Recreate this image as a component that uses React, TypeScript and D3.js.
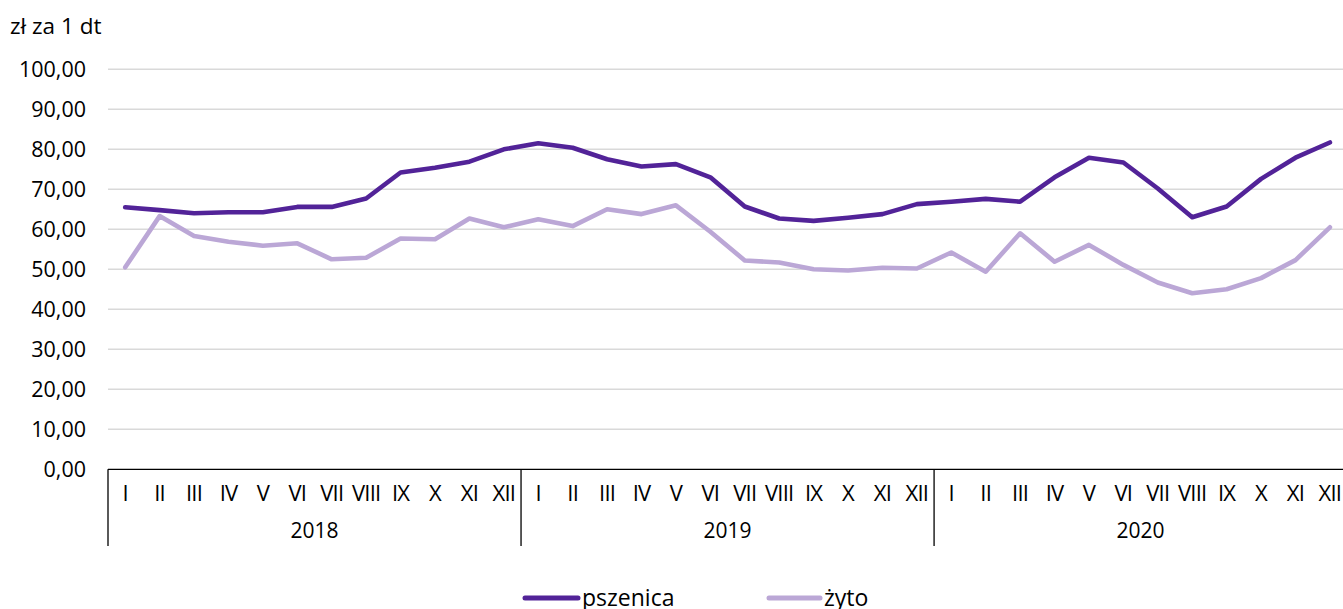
import React from "react";
import * as d3 from "d3";

const years = ["2018", "2019", "2020"];
const months = ["I", "II", "III", "IV", "V", "VI", "VII", "VIII", "IX", "X", "XI", "XII"];
const yTicks = [0, 10, 20, 30, 40, 50, 60, 70, 80, 90, 100];

const pszenica = [
  65.5, 64.8, 64.0, 64.25, 64.25, 65.6, 65.6, 67.7, 74.2, 75.4, 76.9, 80.0,
  81.5, 80.4, 77.5, 75.7, 76.3, 73.0, 65.7, 62.7, 62.1, 62.9, 63.8, 66.3,
  66.9, 67.6, 66.9, 73.0, 77.9, 76.7, 70.2, 63.0, 65.7, 72.6, 77.9, 81.7,
];
const zyto = [
  50.5, 63.3, 58.3, 56.9, 55.9, 56.5, 52.5, 52.9, 57.7, 57.5, 62.7, 60.5,
  62.5, 60.8, 65.0, 63.8, 66.0, 59.4, 52.2, 51.7, 50.0, 49.7, 50.4, 50.2,
  54.2, 49.4, 59.0, 51.9, 56.1, 51.1, 46.7, 44.0, 45.0, 47.8, 52.3, 60.5,
];

const W = 1343;
const H = 609;
const left = 108;
const right = 108 + 36 * 34.42;
const top = 69.3;
const bottom = 469.3;
const FONT = "'Open Sans', 'Noto Sans', sans-serif";
const C1 = "#522398";
const C2 = "#bba7d6";

export default function App() {
  const keys = years.flatMap((y) => months.map((m) => `${y}-${m}`));
  const x = d3.scaleBand<string>().domain(keys).range([left, right]);
  const y = d3.scaleLinear().domain([0, 100]).range([bottom, top]);
  const line = d3
    .line<number>()
    .x((_, i) => (x(keys[i]) as number) + x.bandwidth() / 2)
    .y((d) => y(d));
  const yearW = x.bandwidth() * 12;

  return (
    <svg width={W} height={H} style={{ position: "absolute", left: 0, top: 0, background: "#fff" }}>
      <text x={10} y={34} fontFamily={FONT} fontSize={22.5} fill="#000">zł za 1 dt</text>
      {yTicks.map((t) => (
        <g key={t}>
          {t > 0 && (
            <line x1={left} x2={W} y1={y(t)} y2={y(t)} stroke="#d9d9d9" strokeWidth={1.5} />
          )}
          <text x={86} y={y(t) + 7.5} textAnchor="end" fontFamily={FONT} fontSize={21.5} fill="#000">
            {t.toFixed(2).replace(".", ",")}
          </text>
        </g>
      ))}
      <line x1={left} x2={W} y1={bottom} y2={bottom} stroke="#000" strokeWidth={1.3} />
      {years.map((yr, yi) => {
        const x0 = left + yi * yearW;
        return (
          <g key={yr}>
            <line x1={x0} x2={x0} y1={bottom} y2={546} stroke="#000" strokeWidth={1.3} />
            <text x={x0 + yearW / 2} y={538} textAnchor="middle" fontFamily={FONT} fontSize={21}>
              {yr}
            </text>
            {months.map((m) => (
              <text
                key={m}
                x={(x(`${yr}-${m}`) as number) + x.bandwidth() / 2}
                y={501}
                textAnchor="middle"
                fontFamily={FONT}
                fontSize={22}
                letterSpacing={-0.8}
              >
                {m}
              </text>
            ))}
          </g>
        );
      })}
      <path d={line(zyto) || ""} fill="none" stroke={C2} strokeWidth={4.6} strokeLinejoin="round" strokeLinecap="round" />
      <path d={line(pszenica) || ""} fill="none" stroke={C1} strokeWidth={4.6} strokeLinejoin="round" strokeLinecap="round" />
      <g>
        <line x1={525} x2={578} y1={598} y2={598} stroke={C1} strokeWidth={5} strokeLinecap="round" />
        <text x={582} y={606} fontFamily={FONT} fontSize={23}>pszenica</text>
        <line x1={769} x2={820} y1={598} y2={598} stroke={C2} strokeWidth={5} strokeLinecap="round" />
        <text x={824} y={606} fontFamily={FONT} fontSize={23}>żyto</text>
      </g>
    </svg>
  );
}
